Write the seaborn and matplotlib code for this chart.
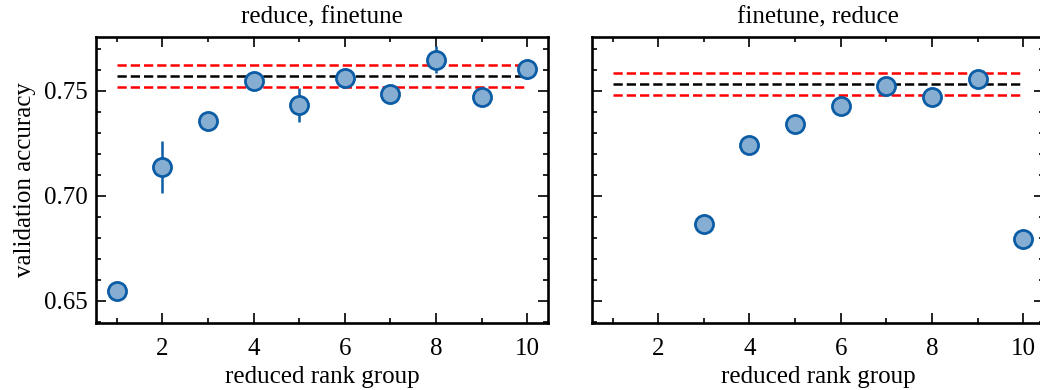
import matplotlib
matplotlib.use("Agg")
import matplotlib.pyplot as plt
import seaborn as sns
import pandas as pd
from matplotlib.ticker import MultipleLocator, FormatStrFormatter

# left panel: reduce, then finetune
ranks_a = [1, 2, 3, 4, 5, 6, 7, 8, 9, 10]
acc_a = [0.6548, 0.7137, 0.7359, 0.7549, 0.7433, 0.7563, 0.7484, 0.7649, 0.7473, 0.7605]
err_a = [0.0015, 0.0125, 0.0015, 0.0015, 0.0080, 0.0015, 0.0015, 0.0065, 0.0015, 0.0048]
base_a = 0.7571
base_err_a = 0.0052

# right panel: finetune, then reduce
ranks_b = [3, 4, 5, 6, 7, 8, 9, 10]
acc_b = [0.6865, 0.7243, 0.7341, 0.7430, 0.7524, 0.7471, 0.7557, 0.6794]
base_b = 0.7533
base_err_b = 0.0052

titles = ["reduce, finetune", "finetune, reduce"]

sns.set_style("ticks", {"axes.edgecolor": "black", "xtick.color": "black", "ytick.color": "black",
                        "text.color": "black", "axes.labelcolor": "black"})
plt.rcParams["font.family"] = ["Liberation Serif", "DejaVu Serif"]
plt.rcParams["font.size"] = 18

blue = "#0C5DA5"
face = "#85AED2"
fs = 18

fig = plt.figure(figsize=(10.4, 3.9), dpi=100)
ax1 = fig.add_axes([0.0923, 0.1718, 0.4346, 0.7333])
ax2 = fig.add_axes([0.5692, 0.1718, 0.4346, 0.7333], sharey=ax1)

df_a = pd.DataFrame({"rank": ranks_a, "acc": acc_a})
df_b = pd.DataFrame({"rank": ranks_b, "acc": acc_b})

panels = [(ax1, df_a, err_a, base_a, base_err_a), (ax2, df_b, None, base_b, base_err_b)]
for i, (ax, df, err, base, berr) in enumerate(panels):
    ax.hlines([base + berr, base - berr], 1, 10, colors="red", linestyles="--", lw=1.8, zorder=1)
    ax.hlines(base, 1, 10, colors="black", linestyles="--", lw=1.8, zorder=1)
    if err is not None:
        ax.errorbar(df["rank"], df["acc"], yerr=err, fmt="none", ecolor=blue, elinewidth=1.8, zorder=2)
    sns.scatterplot(data=df, x="rank", y="acc", ax=ax, s=170, color=face,
                    edgecolor=blue, linewidth=2, zorder=3, legend=False)
    ax.set_title(titles[i], fontsize=fs, pad=10)
    ax.set_xlabel("reduced rank group", fontsize=fs, labelpad=4)
    ax.set_xlim(0.55, 10.45)
    ax.xaxis.set_major_locator(MultipleLocator(2))
    ax.xaxis.set_minor_locator(MultipleLocator(1))
    ax.yaxis.set_major_locator(MultipleLocator(0.05))
    ax.yaxis.set_minor_locator(MultipleLocator(0.01))
    ax.tick_params(which="both", direction="in", top=True, right=True, width=1.2, labelsize=fs)
    ax.tick_params(which="major", length=7, pad=6)
    ax.tick_params(axis="x", which="major", pad=11)
    ax.tick_params(which="minor", length=3.5)
    for sp in ax.spines.values():
        sp.set_linewidth(1.9)

ax1.set_ylim(0.6395, 0.7757)
ax1.set_ylabel("validation accuracy", fontsize=fs, labelpad=6)
ax1.yaxis.set_major_formatter(FormatStrFormatter("%.2f"))
ax2.set_ylabel("")
ax2.tick_params(labelleft=False)

fig.savefig("out.png", dpi=100)
